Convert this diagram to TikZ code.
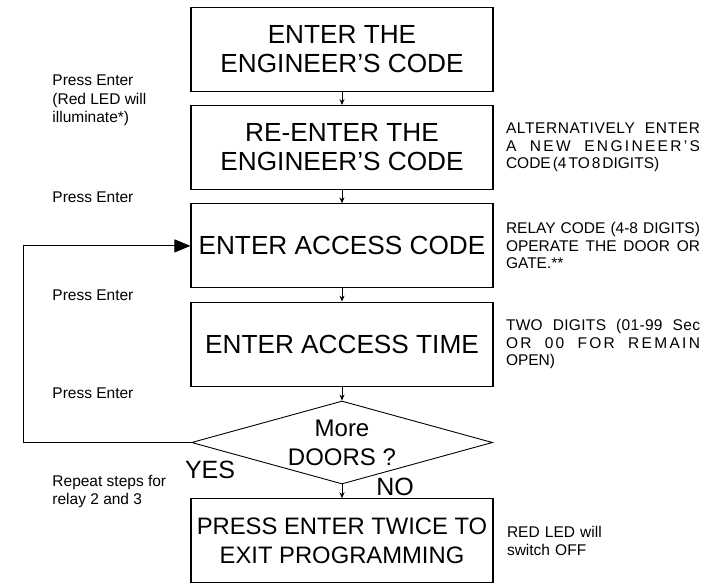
\documentclass[tikz,border=0pt]{standalone}
\usepackage{fontspec}
\setmainfont{Liberation Sans}
\usetikzlibrary{arrows.meta}
\usetikzlibrary{positioning}
\usetikzlibrary{calc}
\usetikzlibrary{shapes.geometric}

\newcommand{\fillline}[2][0]{\makebox[194pt][s]{\spaceskip=0pt\relax\addfontfeatures{LetterSpace=#1}#2}}

\begin{document}
\begin{tikzpicture}[
                > = {Stealth[length=6pt,width=5pt]}, % small arrow heads
                node distance = 98.3pt, % centre to centre of the steps
                line width = 0.9pt
        ]

        \tikzset{
            stepbox/.style = {
                draw = black,
                line width = 1.1pt,
                minimum width = 302pt,
                minimum height = 84pt,
                inner xsep = 2pt,
                align = center,
                font = \fontsize{26.2}{29}\selectfont
            },
            question/.style = {
                diamond,
                draw = black,
                aspect = 3.63,
                inner sep = 0pt,
                minimum width = 301pt,
                minimum height = 83pt,
                align = center,
                font = \fontsize{24}{29}\selectfont
            },
            answer/.style = {font = \fontsize{25}{29}\selectfont, inner sep = 0pt},
            leftnote/.style = {anchor = west, align = left, inner sep = 0pt,
                font = \fontsize{15.5}{18.5}\selectfont},
            rightnote/.style = {align = left, inner sep = 0pt, text width = 194pt,
                font = \fontsize{15.5}{17.5}\selectfont}
        }

        \useasboundingbox (0,0) rectangle (701pt,-587pt);

        \node[stepbox] (B1) at (342pt,-49.3pt) {ENTER THE\\ENGINEER’S CODE};
        \node[stepbox] (B2) [below of=B1] {RE-ENTER THE\\ENGINEER’S CODE};
        \node[stepbox] (B3) [below of=B2] {ENTER ACCESS CODE};
        \node[stepbox] (B4) [below of=B3] {ENTER ACCESS TIME};
        \node[question] (D) [below of=B4] {More\\DOORS ?};
        \node[stepbox, font = \fontsize{23.8}{29}\selectfont] (B5) [below of=D]
            {PRESS ENTER TWICE TO\\EXIT PROGRAMMING};

        \node[answer] (YES) at ([shift={(19pt,-27pt)}]D.west) {YES};
        \node[answer] (NO) at ([shift={(53pt,-2pt)}]D.south) {NO};

        % notes on the left
        \node[leftnote] (P1) at ($(B1.south)!.5!(B2.north) + (-290pt,-2pt)$)
            {Press Enter\\(Red LED will\\illuminate*)};
        \node[leftnote] (P2) at ($(B2.south)!.5!(B3.north) + (-290pt,0)$) {Press Enter};
        \node[leftnote] (P3) at ($(B3.south)!.5!(B4.north) + (-290pt,0)$) {Press Enter};
        \node[leftnote] (P4) at ($(B4.south)!.5!(D.north) + (-290pt,0)$) {Press Enter};
        \node[leftnote] (P5) at ($(D.south)!.5!(B5.north) + (-290pt,0)$)
            {Repeat steps for\\relay 2 and 3};

        % notes on the right
        \node[rightnote, right=12pt of B2] (R2)
            {\fillline[4]{ALTERNATIVELY ENTER}\\
             \fillline[15]{A NEW ENGINEER’S}\\
             {\spaceskip=2pt CODE (4 TO 8 DIGITS)}};
        \node[rightnote, right=12pt of B3] (R3)
            {\fillline{RELAY CODE (4-8 DIGITS)}\\
             \fillline{OPERATE THE DOOR OR}\\
             GATE.**};
        \node[rightnote, right=12pt of B4] (R4)
            {\fillline[2]{TWO DIGITS (01-99 Sec}\\
             \fillline[15]{OR 00 FOR REMAIN}\\
             OPEN)};
        \node[rightnote, right=13pt of B5] (R5) {RED LED will\\switch OFF};

        \draw[->] (B1) -- (B2);
        \draw[->] (B2) -- (B3);
        \draw[->] (B3) -- (B4);
        \draw[->] (B4) -- (D);
        \draw[->] (D) -- (B5);
        \draw[-{Triangle[length=16pt,width=13pt]}] (D.west) -- ++(-168pt,0) |- (B3.west);

        \end{tikzpicture}
\end{document}
